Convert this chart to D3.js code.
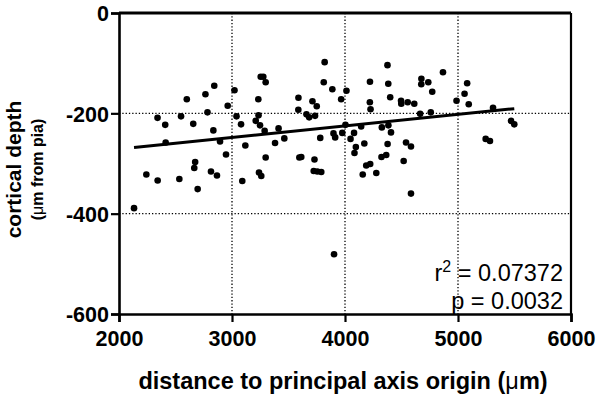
<!DOCTYPE html>
<html>
<head>
<meta charset="utf-8">
<script src="https://cdn.jsdelivr.net/npm/d3@7"></script>
<style>
  html, body { margin: 0; padding: 0; background: #fff; }
  svg { display: block; font-family: "Liberation Sans", Arial, sans-serif; }
</style>
</head>
<body>
<div id="chart"></div>
<script>
// distance to principal axis origin (um)
const distance = [
  2133, 2242, 2341, 2342, 2409, 2413, 2534, 2549, 2600, 2657,
  2674, 2666, 2696, 2765, 2783, 2814, 2835, 2843, 2867, 2894,
  2947, 2962, 3022, 3040, 3080, 3091, 3118, 3210, 3233, 3235,
  3239, 3248, 3254, 3277, 3298, 3289, 3259, 3298, 3381, 3412,
  3463, 3588, 3587, 3596, 3613, 3659, 3683, 3712, 3735, 3750,
  3730, 3723, 3755, 3790, 3781, 3820, 3812, 3888, 3898, 3913,
  3966, 3976, 4013, 4004, 3903, 4049, 4080, 4096, 4084, 4143,
  4171, 4157, 4188, 4223, 4221, 4220, 4226, 4277, 4326, 4323,
  4365, 4376, 4383, 4384, 4400, 4407, 4377, 4496, 4498, 4555,
  4613, 4540, 4584, 4519, 4584, 4665, 4676, 4675, 4737, 4772,
  4759, 4867, 4987, 5058, 5081, 5095, 5310, 5245, 5283, 5469,
  5498
]
// cortical depth (um from pia)
const depth = [
  -389, -322, -209, -334, -223, -258, -331, -206, -172, -221,
  -297, -309, -351, -162, -198, -316, -234, -145, -324, -256,
  -282, -185, -154, -206, -222, -335, -264, -215, -172, -204,
  -318, -224, -127, -127, -138, -235, -325, -288, -259, -230,
  -250, -169, -193, -288, -287, -202, -208, -176, -205, -186,
  -292, -315, -316, -317, -249, -98, -138, -152, -240, -248,
  -172, -239, -155, -223, -481, -251, -239, -267, -279, -226,
  -260, -322, -304, -301, -137, -178, -192, -319, -228, -287,
  -283, -104, -141, -224, -168, -238, -261, -175, -181, -178,
  -181, -258, -266, -295, -360, -201, -131, -142, -138, -157,
  -198, -118, -175, -161, -140, -182, -189, -251, -255, -215,
  -222
]

const xTicks = [2000, 3000, 4000, 5000, 6000]
const yTicks = [0, -200, -400, -600]
const statLines = ['= 0.07372', 'p = 0.0032']

const width = 600
const height = 397
const margin = { top: 13, right: 29, bottom: 83, left: 119 }

const svg = d3.select('#chart')
  .append('svg')
  .attr('width', width)
  .attr('height', height)

const x = d3.scaleLinear().domain([2000, 6000]).range([margin.left, width - margin.right])
const y = d3.scaleLinear().domain([-600, 0]).range([height - margin.bottom, margin.top])

const points = distance.map((d, i) => ({ x: d, y: depth[i] }))

// dotted grid
svg.append('g')
  .selectAll('line')
  .data(xTicks.slice(1, -1))
  .enter()
  .append('line')
  .attr('x1', d => x(d)).attr('x2', d => x(d))
  .attr('y1', y(0)).attr('y2', y(-600))
  .attr('stroke', '#000')
  .attr('stroke-width', 1.3)
  .attr('stroke-dasharray', '1.3,2')

svg.append('g')
  .selectAll('line')
  .data(yTicks.slice(1, -1))
  .enter()
  .append('line')
  .attr('y1', d => y(d)).attr('y2', d => y(d))
  .attr('x1', x(2000)).attr('x2', x(6000))
  .attr('stroke', '#000')
  .attr('stroke-width', 1.3)
  .attr('stroke-dasharray', '1.3,2')

// frame: top and right
svg.append('line')
  .attr('x1', x(2000)).attr('x2', x(6000))
  .attr('y1', y(0)).attr('y2', y(0))
  .attr('stroke', '#000').attr('stroke-width', 2.8)
svg.append('line')
  .attr('x1', x(6000)).attr('x2', x(6000))
  .attr('y1', y(0)).attr('y2', y(-600))
  .attr('stroke', '#000').attr('stroke-width', 2.2)

// axes
const xAxis = svg.append('g')
  .attr('transform', `translate(0,${y(-600)})`)
  .call(d3.axisBottom(x).tickValues(xTicks).tickSize(8).tickPadding(9).tickFormat(d3.format('d')))

const yAxis = svg.append('g')
  .attr('transform', `translate(${x(2000)},0)`)
  .call(d3.axisLeft(y).tickValues(yTicks).tickSize(8).tickPadding(2).tickFormat(d => d === 0 ? '0' : '-' + Math.abs(d)))

for (const g of [xAxis, yAxis]) {
  g.select('.domain').attr('stroke', '#000').attr('stroke-width', 2.6)
  g.selectAll('.tick line').attr('stroke', '#000').attr('stroke-width', 2.2)
  g.selectAll('.tick text')
    .attr('fill', '#000')
    .style('font-size', '21.5px')
    .style('font-weight', 'bold')
    .style('font-family', '"Liberation Sans", Arial, sans-serif')
}
yAxis.selectAll('.tick text').attr('dy', '0.36em')

// points
svg.append('g')
  .selectAll('circle')
  .data(points)
  .enter()
  .append('circle')
  .attr('cx', d => x(d.x))
  .attr('cy', d => y(d.y))
  .attr('r', 3.3)
  .attr('fill', '#000')

// least squares line
const mx = d3.mean(points, d => d.x)
const my = d3.mean(points, d => d.y)
const slope = d3.sum(points, d => (d.x - mx) * (d.y - my)) / d3.sum(points, d => (d.x - mx) ** 2)
const intercept = my - slope * mx
const [x0, x1] = d3.extent(distance)

svg.append('line')
  .attr('x1', x(x0)).attr('y1', y(intercept + slope * x0))
  .attr('x2', x(x1)).attr('y2', y(intercept + slope * x1))
  .attr('stroke', '#000')
  .attr('stroke-width', 3)

// stats
const stats = svg.append('text')
  .attr('text-anchor', 'end')
  .style('font-size', '23.5px')
  .attr('fill', '#000')
const r2 = stats.append('tspan').attr('x', 563).attr('y', 281)
r2.append('tspan').text('r')
r2.append('tspan').text('2').attr('dy', -9).style('font-size', '16px')
r2.append('tspan').text(' ' + statLines[0]).attr('dy', 9)
stats.append('tspan').attr('x', 563).attr('y', 309).text(statLines[1])

// axis titles
const xTitle = svg.append('text')
  .attr('x', (x(2000) + x(6000)) / 2 - 2)
  .attr('y', 389)
  .attr('text-anchor', 'middle')
  .style('font-size', '23.5px')
  .style('font-weight', 'bold')
xTitle.append('tspan').text('distance to principal axis origin (')
xTitle.append('tspan').text('\u03bc').style('font-weight', 'normal')
xTitle.append('tspan').text('m)')

const yc = (y(0) + y(-600)) / 2 + 6
svg.append('text')
  .attr('transform', `translate(21,${yc}) rotate(-90)`)
  .attr('text-anchor', 'middle')
  .style('font-size', '21px')
  .style('font-weight', 'bold')
  .text('cortical depth')

const sub = svg.append('text')
  .attr('transform', `translate(43,${yc}) rotate(-90)`)
  .attr('text-anchor', 'middle')
  .style('font-size', '16px')
  .style('font-weight', 'bold')
sub.append('tspan').text('(')
sub.append('tspan').text('\u03bc').style('font-weight', 'normal')
sub.append('tspan').text('m from pia)')
</script>
</body>
</html>
